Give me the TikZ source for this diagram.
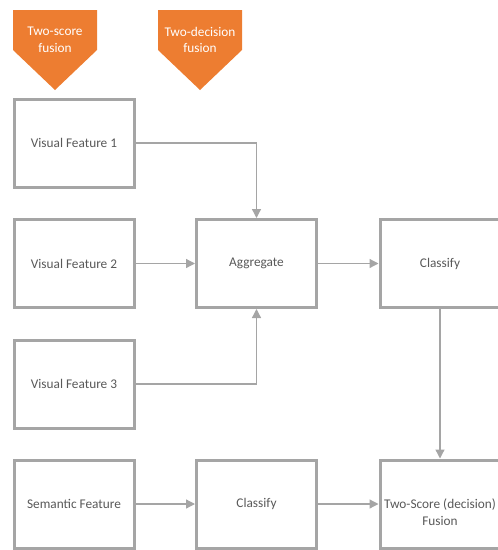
\documentclass[tikz,border=0pt]{standalone}
\usepackage{fontspec}
\setmainfont{Carlito}
\usetikzlibrary{arrows.meta}
\definecolor{boxgray}{HTML}{A5A5A5}
\definecolor{txtgray}{HTML}{595959}
\definecolor{tagorange}{HTML}{ED7D31}
\begin{document}
\begin{tikzpicture}[x=1pt,y=-1pt,
  box/.style={draw=boxgray, line width=3pt, fill=white, minimum width=120pt, minimum height=88pt,
    inner sep=0pt, font=\fontsize{13.3}{17}\selectfont, text=txtgray, align=center},
  conn/.style={draw=boxgray, line width=1.3pt, -{Triangle[length=9pt,width=9pt]}},
  plain/.style={draw=boxgray, line width=1.3pt},
  tagtxt/.style={font=\fontsize{13.3}{16.5}\selectfont, text=white, align=center, inner sep=0pt}]
\useasboundingbox (0,0) rectangle (498,550);
\clip (0,0) rectangle (498,550);
% tags
\fill[tagorange] (13,10) -- (97,10) -- (97,50) -- (55,90) -- (13,50) -- cycle;
\node[tagtxt] (tag1) at (55,40) {Two-score\\fusion};
\fill[tagorange] (158,10) -- (242,10) -- (242,50) -- (200,90) -- (158,50) -- cycle;
\node[tagtxt] (tag2) at (200,40) {Two-decision\\fusion};
% boxes
\node[box] (vf1) at (74,143) {Visual Feature 1};
\node[box] (vf2) at (74,263.5) {Visual Feature 2};
\node[box] (vf3) at (74,384) {Visual Feature 3};
\node[box] (sem) at (74,504) {Semantic Feature};
\node[box] (agg) at (256.5,263.5) {Aggregate};
\node[box] (cls2) at (256.5,504) {Classify};
\node[box] (cls1) at (440,263.5) {Classify};
\node[box] (fus) at (440,504) {};
\node[font=\fontsize{13.3}{17}\selectfont, text=txtgray, align=center, inner sep=0pt] (fustxt) at (440,512) {Two-Score (decision)\\Fusion};
% connectors
\draw[conn] (vf1.east) -| (agg.north);
\draw[conn] (vf2.east) -- (agg.west);
\draw[conn] (vf3.east) -| (agg.south);
\draw[conn] (agg.east) -- (cls1.west);
\draw[conn] (cls1.south) -- (fus.north);
\draw[conn] (sem.east) -- (cls2.west);
\draw[conn] (cls2.east) -- (fus.west);
\end{tikzpicture}
\end{document}
